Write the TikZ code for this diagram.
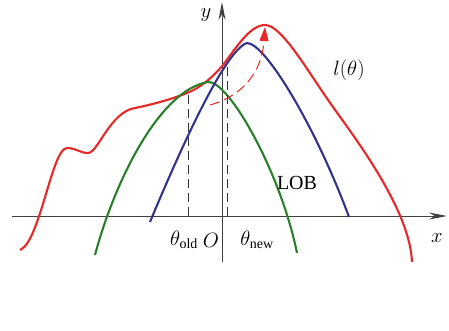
\documentclass[tikz,border=0pt]{standalone}
\usepackage{fontspec}
\setmainfont{Liberation Serif}
\usepackage{tikz}
\usetikzlibrary{arrows.meta, positioning}

\definecolor{llred}{RGB}{232,40,40}
\definecolor{lobblue}{RGB}{52,50,140}
\definecolor{lobgreen}{RGB}{40,128,40}

\begin{document}
\begin{tikzpicture}[
    x=1pt, y=-1pt,
    axis/.style={draw=black!75, line width=1pt, -{Stealth[length=18pt, width=7pt]}},
    curve/.style={line width=2.1pt, line join=round},
    guide/.style={draw=black!80, line width=1pt, dash pattern=on 9pt off 5pt},
    lbl/.style={font=\fontsize{20}{22}\selectfont, inner sep=1pt}
]
    \useasboundingbox (0,0) rectangle (449,331);

    % Axes
    \coordinate (xs) at (12,216);
    \coordinate (xe) at (447,216);
    \coordinate (ys) at (222,262);
    \coordinate (ye) at (222,2);
    \draw[axis] (xs) -- (xe);
    \draw[axis] (ys) -- (ye);

    % Likelihood curve
    \draw[curve, llred] (20,250) .. controls (40,242) and (52,148) .. (67,148)
        .. controls (76,148) and (80,153) .. (88,153)
        .. controls (98,153) and (110,112) .. (135,108)
        .. controls (155,104) and (175,98) .. (187,93)
        .. controls (200,88) and (212,78) .. (223,65)
        .. controls (236,48) and (250,25) .. (265,25)
        .. controls (282,25) and (308,72) .. (333,107)
        .. controls (355,138) and (410,210) .. (412,262);

    % Lower bounds
    \draw[curve, lobgreen] (95,255) .. controls (115,180) and (160,90) .. (208,82)
        .. controls (228,80) and (280,170) .. (297,253);
    \draw[curve, lobblue] (150,222) .. controls (180,150) and (225,50) .. (247,43)
        .. controls (265,43) and (315,125) .. (349,217);

    % Guides
    \coordinate (old) at (188,216);
    \coordinate (oldtop) at (188,94);
    \coordinate (new) at (227,216);
    \coordinate (newtop) at (227,62);
    \draw[guide] (old) -- (oldtop);
    \draw[guide] (new) -- (newtop);

    % Update step
    \coordinate (stepfrom) at (210,105);
    \coordinate (stepto) at (265,27);
    \draw[llred, line width=1pt, dash pattern=on 10pt off 5pt,
          -{Triangle[length=14pt, width=9pt]}]
        (stepfrom) .. controls (245,95) and (262,70) .. (stepto);

    % Labels
    \node[lbl] (ylab) at (206,15) {$y$};
    \node[lbl] (xlab) at (437,238) {$x$};
    \node[lbl] (orig) at (211,240) {$O$};
    \node[lbl] (thold) at (184,240) {$\theta_{\mathrm{old}}$};
    \node[lbl] (thnew) at (257,240) {$\theta_{\mathrm{new}}$};
    \node[lbl] (llab) at (349,70) {$l(\theta)$};
    \node[lbl] (loblab) at (297,183) {LOB};
\end{tikzpicture}
\end{document}
